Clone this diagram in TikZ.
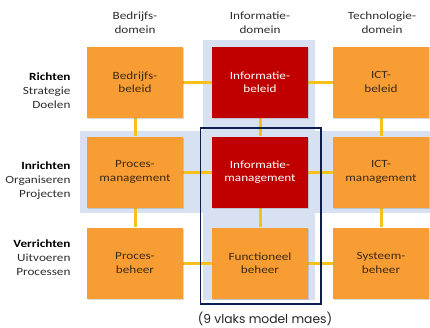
\documentclass[tikz,border=0pt]{standalone}
\usepackage{fontspec}
\setmainfont{Carlito}[FakeStretch=1.2]
\newfontfamily\captionfont{Poppins}
\usetikzlibrary{shadows,backgrounds}
\definecolor{boxorange}{RGB}{247,157,52}
\definecolor{boxred}{RGB}{192,0,0}
\definecolor{bandblue}{RGB}{216,225,241}
\definecolor{framenavy}{RGB}{14,30,78}
\definecolor{linkyellow}{RGB}{246,193,30}
\definecolor{boxtext}{RGB}{62,42,22}
\definecolor{labeltext}{RGB}{45,45,45}
\tikzset{
  cell/.style={rectangle, minimum width=96pt, minimum height=71pt, inner sep=0pt,
    align=center, font=\fontsize{11}{13.5}\selectfont,
    drop shadow={shadow xshift=1pt, shadow yshift=-1.2pt, opacity=0.25, fill=black!60}},
  orangecell/.style={cell, fill=boxorange, text=boxtext},
  redcell/.style={cell, fill=boxred, text=white},
  link/.style={draw=linkyellow, line width=3pt},
  head/.style={align=center, font=\fontsize{11}{14}\selectfont, text=labeltext},
  rowlabel/.style={align=right, anchor=east, font=\fontsize{11}{14}\selectfont, text=labeltext},
}
\begin{document}
\begin{tikzpicture}[x=1pt,y=-1pt]
\useasboundingbox (0,0) rectangle (430,327);
\begin{scope}[on background layer]
\fill[white] (0,0) rectangle (430,327);
\fill[bandblue] (203,40) rectangle (315,300);
\fill[bandblue] (80,131) rectangle (430,213);
\end{scope}
% boxes
\node[orangecell] (b1) at (135,82) {Bedrijfs-\\beleid};
\node[redcell]    (i1) at (260,82) {Informatie-\\beleid};
\node[orangecell] (t1) at (381,82) {ICT-\\beleid};
\node[orangecell] (b2) at (135,172) {Proces-\\management};
\node[redcell]    (i2) at (260,172) {Informatie-\\management};
\node[orangecell] (t2) at (381,172) {ICT-\\management};
\node[orangecell] (b3) at (135,263) {Proces-\\beheer};
\node[orangecell] (i3) at (260,263) {Functioneel\\beheer};
\node[orangecell] (t3) at (381,263) {Systeem-\\beheer};
% links
\begin{scope}[on background layer]
\foreach \a/\b in {b1/i1,i1/t1,b2/i2,i2/t2,b3/i3,i3/t3,b1/b2,b2/b3,i1/i2,i2/i3,t1/t2,t2/t3}
  \draw[link] (\a) -- (\b);
\end{scope}
% navy frame
\draw[framenavy, line width=1.6pt] (200.5,128) rectangle (321,304);
% headers
\node[head] (h1) at (135,23) {Bedrijfs-\\domein};
\node[head] (h2) at (260,23) {Informatie-\\domein};
\node[head] (h3) at (382,23) {Technologie-\\domein};
% row labels
\node[rowlabel] (r1) at (74,91) {\textbf{\color{black}Richten}\\Strategie\\Doelen};
\node[rowlabel] (r2) at (74,181) {\textbf{\color{black}Inrichten}\\Organiseren\\Projecten};
\node[rowlabel] (r3) at (74,258) {\textbf{\color{black}Verrichten}\\Uitvoeren\\Processen};
% caption
\node[font=\captionfont\fontsize{12.3}{14}\selectfont, text=black!85] (cap) at (265,319) {(9 vlaks model maes)};
\end{tikzpicture}
\end{document}
